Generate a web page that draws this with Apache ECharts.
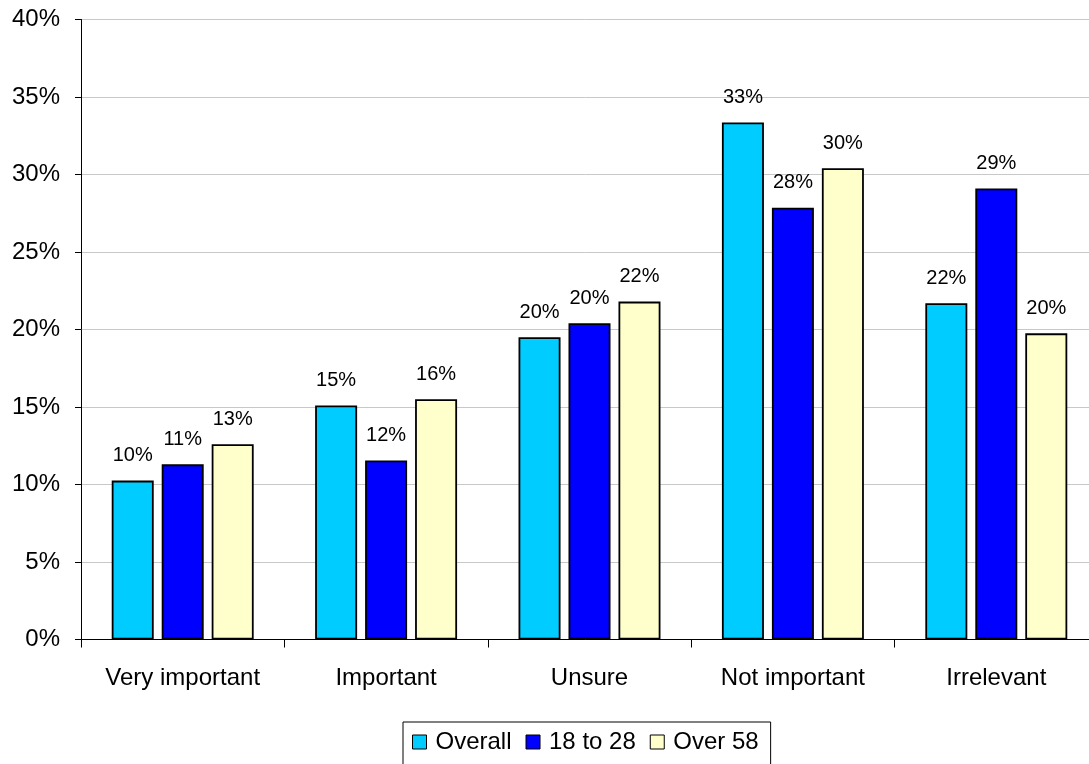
<!DOCTYPE html>
<html>
<head>
<meta charset="utf-8">
<script src="https://cdn.jsdelivr.net/npm/echarts@6/dist/echarts.min.js"></script>
<style>
  html, body { margin: 0; padding: 0; background: #fff; }
  #chart { width: 1089px; height: 764px; }
</style>
</head>
<body>
<div id="chart"></div>
<script>
// Survey answers by group, in percent
const categories = ['Very important', 'Important', 'Unsure', 'Not important', 'Irrelevant'];
const overall = [10.25, 15.1, 19.5, 33.35, 21.7];
const age18to28 = [11.3, 11.55, 20.4, 27.85, 29.1];
const over58 = [12.6, 15.5, 21.8, 30.4, 19.75];
const yTicks = [0, 5, 10, 15, 20, 25, 30, 35, 40];

const FONT = 'Liberation Sans, Arial, sans-serif';

function barSeries(name, data, color) {
  return {
    name: name,
    type: 'bar',
    data: data,
    barWidth: 42,
    barGap: '19%',
    itemStyle: { color: color, borderColor: '#000', borderWidth: 1.8 },
    label: {
      show: true,
      position: 'top',
      distance: 15,
      fontFamily: FONT,
      fontSize: 20,
      color: '#000',
      formatter: p => Math.round(p.value) + '%'
    }
  };
}

const chart = echarts.init(document.getElementById('chart'), null, { renderer: 'canvas' });
chart.setOption({
  animation: false,
  backgroundColor: '#fff',
  textStyle: { fontFamily: FONT },
  // plot area runs slightly past the right edge of the canvas
  grid: { left: 81, top: 19.5, height: 620, width: 1017, containLabel: false, outerBoundsMode: 'none' },
  legend: {
    data: ['Overall', '18 to 28', 'Over 58'],
    left: 403,
    top: 722,
    orient: 'horizontal',
    icon: 'rect',
    itemWidth: 14,
    itemHeight: 14,
    itemGap: 14,
    padding: [8, 12, 16, 9],
    borderColor: '#000',
    borderWidth: 1,
    textStyle: { fontFamily: FONT, fontSize: 24, color: '#000', padding: [0, 0, 0, 4] },
    itemStyle: { borderColor: '#000', borderWidth: 1 }
  },
  xAxis: {
    type: 'category',
    data: categories,
    axisLine: { lineStyle: { color: '#000', width: 1 } },
    axisTick: { show: true, length: 8, lineStyle: { color: '#000' } },
    axisLabel: { fontFamily: FONT, fontSize: 24, color: '#000', margin: 27, interval: 0 }
  },
  yAxis: {
    type: 'value',
    min: yTicks[0],
    max: yTicks[yTicks.length - 1],
    interval: 5,
    axisLine: { show: true, lineStyle: { color: '#000', width: 1 } },
    axisTick: { show: true, inside: false, length: 6, lineStyle: { color: '#000' } },
    axisLabel: { fontFamily: FONT, fontSize: 24, color: '#000', margin: 21, formatter: v => v + '%' },
    splitLine: { show: true, lineStyle: { color: '#c8c8c8', width: 1 } }
  },
  series: [
    barSeries('Overall', overall, '#00ccff'),
    barSeries('18 to 28', age18to28, '#0000ff'),
    barSeries('Over 58', over58, '#ffffcc')
  ]
});
</script>
</body>
</html>
